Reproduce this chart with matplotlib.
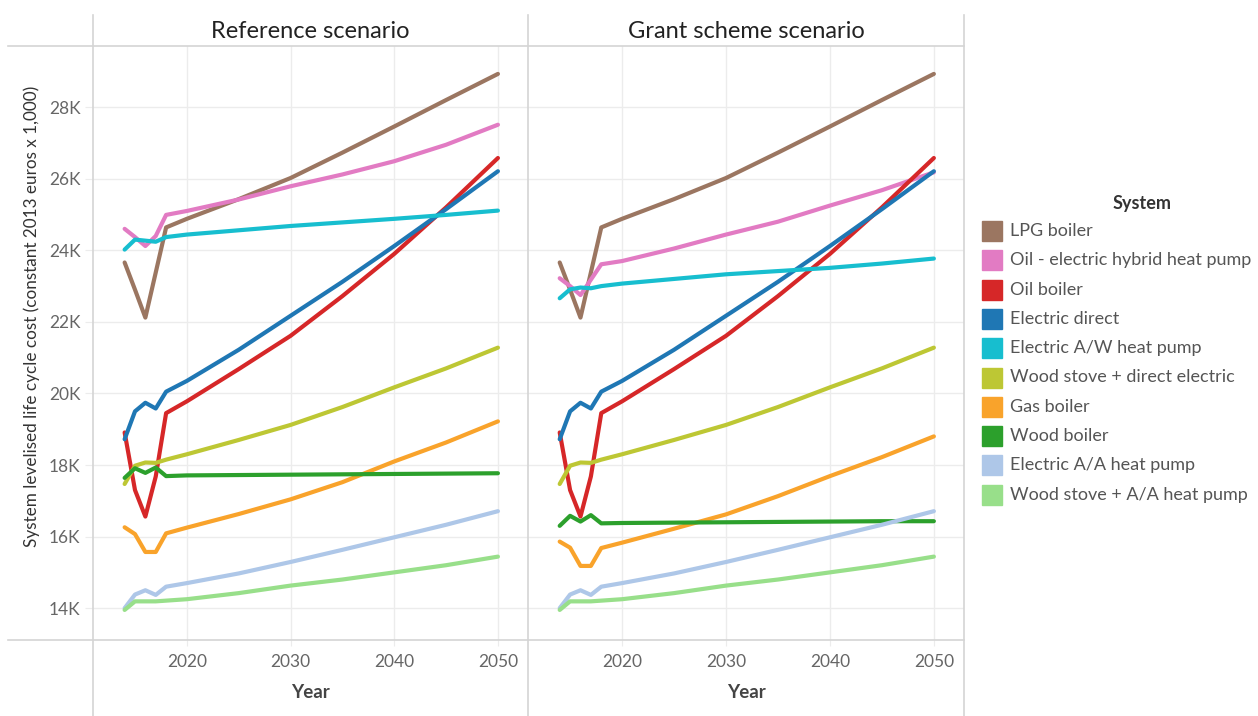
import matplotlib
matplotlib.use("Agg")
import matplotlib.pyplot as plt
from matplotlib.lines import Line2D
from matplotlib.patches import Rectangle
from matplotlib.ticker import FuncFormatter

plt.rcParams['font.family'] = ['Lato', 'DejaVu Sans']

# ---------------------------------------------------------------------------
# Data (values in thousands of constant 2013 euros)
# ---------------------------------------------------------------------------
years = [2014, 2015, 2016, 2017, 2018, 2020, 2025, 2030, 2035, 2040, 2045, 2050]

systems = ["LPG boiler", "Oil - electric hybrid heat pump", "Oil boiler",
           "Electric direct", "Electric A/W heat pump", "Wood stove + direct electric",
           "Gas boiler", "Wood boiler", "Electric A/A heat pump", "Wood stove + A/A heat pump"]
colors = ["#9b7661", "#e27bc3", "#d62728", "#1f77b4", "#17becf",
          "#bdc734", "#f9a32b", "#2ca02c", "#aec7e8", "#98df8a"]

ref_lpg    = [23.66, 22.90, 22.12, 23.38, 24.64, 24.88, 25.43, 26.02, 26.73, 27.46, 28.20, 28.93]
ref_hybrid = [24.60, 24.37, 24.12, 24.40, 24.99, 25.10, 25.42, 25.79, 26.12, 26.49, 26.95, 27.51]
ref_oil    = [18.91, 17.30, 16.56, 17.68, 19.45, 19.78, 20.68, 21.61, 22.72, 23.90, 25.20, 26.58]
ref_elec   = [18.72, 19.50, 19.74, 19.58, 20.05, 20.35, 21.22, 22.17, 23.12, 24.12, 25.15, 26.21]
ref_aw     = [24.02, 24.30, 24.27, 24.24, 24.37, 24.44, 24.56, 24.68, 24.78, 24.88, 24.99, 25.11]
ref_wsde   = [17.47, 17.98, 18.07, 18.06, 18.15, 18.30, 18.70, 19.12, 19.62, 20.17, 20.70, 21.28]
ref_gas    = [16.26, 16.07, 15.57, 15.57, 16.09, 16.25, 16.63, 17.04, 17.52, 18.10, 18.63, 19.22]
ref_wood   = [17.64, 17.91, 17.78, 17.93, 17.69, 17.71, 17.72, 17.73, 17.74, 17.75, 17.76, 17.77]
ref_aa     = [14.00, 14.38, 14.50, 14.37, 14.60, 14.70, 14.97, 15.29, 15.63, 15.98, 16.33, 16.71]
ref_wsaa   = [13.95, 14.19, 14.19, 14.19, 14.21, 14.25, 14.42, 14.63, 14.80, 15.00, 15.20, 15.44]

grant_lpg    = ref_lpg
grant_hybrid = [23.22, 23.00, 22.75, 23.18, 23.61, 23.70, 24.05, 24.44, 24.80, 25.25, 25.68, 26.18]
grant_oil    = ref_oil
grant_elec   = ref_elec
grant_aw     = [22.66, 22.91, 22.96, 22.94, 23.00, 23.07, 23.20, 23.33, 23.42, 23.51, 23.63, 23.77]
grant_wsde   = ref_wsde
grant_gas    = [15.86, 15.69, 15.18, 15.18, 15.68, 15.83, 16.22, 16.62, 17.13, 17.69, 18.22, 18.80]
grant_wood   = [16.30, 16.58, 16.42, 16.60, 16.37, 16.38, 16.39, 16.40, 16.41, 16.42, 16.43, 16.43]
grant_aa     = ref_aa
grant_wsaa   = ref_wsaa

ref_series = [ref_lpg, ref_hybrid, ref_oil, ref_elec, ref_aw,
              ref_wsde, ref_gas, ref_wood, ref_aa, ref_wsaa]
grant_series = [grant_lpg, grant_hybrid, grant_oil, grant_elec, grant_aw,
                grant_wsde, grant_gas, grant_wood, grant_aa, grant_wsaa]

panel_titles = ["Reference scenario", "Grant scheme scenario"]
y_ticks = [14, 16, 18, 20, 22, 24, 26, 28]
x_ticks = [2020, 2030, 2040, 2050]

# ---------------------------------------------------------------------------
W, H = 1258, 716
fig = plt.figure(figsize=(W / 100, H / 100), dpi=100)

def fx(px):
    return px / W

def fy(py):
    return 1 - py / H

top_px, bot_px = 46, 640
panel_edges = [93, 528, 964]
border = "#d4d4d4"
grid_c = "#ececec"

axes = []
for i, data in enumerate([ref_series, grant_series]):
    x0, x1 = panel_edges[i], panel_edges[i + 1]
    ax = fig.add_axes([fx(x0), fy(bot_px), fx(x1 - x0), (bot_px - top_px) / H])
    for vals, c in zip(data, colors):
        ax.plot(years, vals, color=c, linewidth=3, solid_capstyle='round',
                solid_joinstyle='round', zorder=3)
    ax.set_xlim(2010.95, 2052.9)
    ax.set_ylim(13.11, 29.71)
    ax.set_xticks(x_ticks)
    ax.set_yticks(y_ticks)
    ax.grid(True, color=grid_c, linewidth=1, zorder=0)
    for s in ax.spines.values():
        s.set_visible(False)
    ax.tick_params(axis='x', length=4, color=grid_c, labelsize=12.5,
                   labelcolor="#666666", pad=6)
    ax.tick_params(axis='y', length=6, color=grid_c, labelsize=12.5,
                   labelcolor="#666666", pad=3)
    ax.yaxis.set_major_formatter(FuncFormatter(lambda v, p: f"{int(v)}K"))
    if i > 0:
        ax.tick_params(axis='y', left=False, labelleft=False)
    ax.set_xlabel("Year", fontsize=13.5, fontweight='bold', color="#444444", labelpad=10)
    fig.text(fx((x0 + x1) / 2), fy(31), panel_titles[i], ha='center', va='center',
             fontsize=17, color="#222222")
    axes.append(ax)

axes[0].set_ylabel("System levelised life cycle cost (constant 2013 euros x 1,000)",
                   fontsize=12.3, color="#333333")
axes[0].yaxis.set_label_coords(-0.122, 0.544)

# panel borders
for xp in panel_edges:
    fig.add_artist(Line2D([fx(xp), fx(xp)], [fy(15), fy(716)], color=border, lw=1.2))
for yp in [top_px, bot_px]:
    fig.add_artist(Line2D([fx(8), fx(964)], [fy(yp), fy(yp)], color=border, lw=1.2))

# legend
fig.text(fx(1142), fy(204), "System", ha='center', va='center', fontsize=13,
         fontweight='bold', color="#333333")
for k, (name, c) in enumerate(zip(systems, colors)):
    yc = 231 + k * 29.3
    fig.add_artist(Rectangle((fx(982), fy(yc + 10)), fx(20), 20 / H, color=c,
                             transform=fig.transFigure))
    fig.text(fx(1010), fy(yc), name, ha='left', va='center', fontsize=13,
             color="#555555")

fig.savefig("out.png", dpi=100)
